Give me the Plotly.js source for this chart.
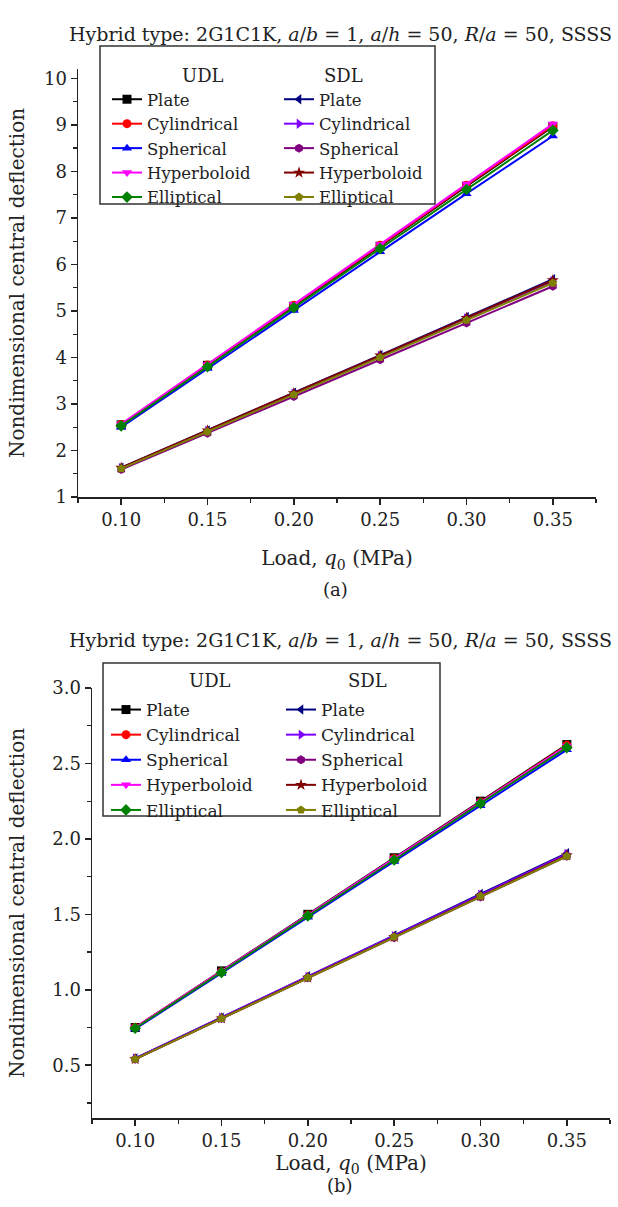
<!DOCTYPE html>
<html>
<head>
<meta charset="utf-8">
<script src="https://cdn.plot.ly/plotly-3.0.1.min.js"></script>
<style>html,body{margin:0;padding:0;background:#fff;}#chart{width:618px;height:1207px;}</style>
</head>
<body>
<div id="chart"></div>
<script>
// ---- data ----
var loads = [0.10, 0.15, 0.20, 0.25, 0.30, 0.35];
var names = ["Plate", "Cylindrical", "Spherical", "Hyperboloid", "Elliptical"];

// Panel (a)
var aUDL_plate = [2.55, 3.83, 5.10, 6.39, 7.68, 8.96];
var aUDL_cyl   = [2.56, 3.84, 5.12, 6.41, 7.70, 8.98];
var aUDL_sph   = [2.50, 3.76, 5.01, 6.27, 7.52, 8.76];
var aUDL_hyp   = [2.57, 3.85, 5.14, 6.43, 7.73, 9.02];
var aUDL_ell   = [2.53, 3.80, 5.07, 6.34, 7.61, 8.88];
var aSDL_plate = [1.63, 2.43, 3.24, 4.05, 4.87, 5.68];
var aSDL_cyl   = [1.62, 2.42, 3.22, 4.03, 4.84, 5.64];
var aSDL_sph   = [1.59, 2.37, 3.16, 3.95, 4.74, 5.53];
var aSDL_hyp   = [1.63, 2.43, 3.23, 4.04, 4.85, 5.66];
var aSDL_ell   = [1.61, 2.40, 3.20, 4.00, 4.80, 5.60];

// Panel (b)
var bUDL_plate = [0.75, 1.125, 1.50, 1.875, 2.25, 2.625];
var bUDL_cyl   = [0.75, 1.12, 1.495, 1.87, 2.245, 2.62];
var bUDL_sph   = [0.74, 1.11, 1.48, 1.85, 2.22, 2.59];
var bUDL_hyp   = [0.75, 1.12, 1.495, 1.87, 2.245, 2.615];
var bUDL_ell   = [0.745, 1.115, 1.49, 1.86, 2.235, 2.605];
var bSDL_plate = [0.545, 0.815, 1.09, 1.36, 1.635, 1.905];
var bSDL_cyl   = [0.545, 0.815, 1.085, 1.355, 1.63, 1.90];
var bSDL_sph   = [0.54, 0.81, 1.08, 1.345, 1.615, 1.885];
var bSDL_hyp   = [0.54, 0.81, 1.08, 1.35, 1.62, 1.89];
var bSDL_ell   = [0.54, 0.81, 1.08, 1.35, 1.62, 1.885];

var titleText = "Hybrid type: 2G1C1K, <i>a</i>/<i>b</i> = 1, <i>a</i>/<i>h</i> = 50, <i>R</i>/<i>a</i> = 50, SSSS";
var yTitle = "Nondimensional central deflection";
var xTitle = "Load, <i>q</i><sub>0</sub> (MPa)";

// ---- styles ----
var udlColors = ["#000000", "#ff0000", "#0000ff", "#ff00ff", "#008000"];
var udlSymbols = ["square", "circle", "triangle-up", "triangle-down", "diamond"];
var sdlColors = ["#000080", "#8000ff", "#800080", "#800000", "#808000"];
var sdlSymbols = ["triangle-left", "triangle-right", "hexagon", "star", "pentagon"];

var FONT = "DejaVu Serif, Liberation Serif, serif";
var TXT = "#222";
var W = 618, H = 1207;
function px(x){return x / W;}
function py(y){return 1 - y / H;}

var traces = [];
function addGroup(series, colors, symbols, xa, ya, leg){
  series.forEach(function(s, i){
    traces.push({
      x: loads, y: s, name: names[i], type: "scatter", mode: "lines+markers",
      xaxis: xa, yaxis: ya, legend: leg,
      line: {color: colors[i], width: 2},
      marker: {color: colors[i], symbol: symbols[i], size: 9}
    });
  });
}
addGroup([aUDL_plate, aUDL_cyl, aUDL_sph, aUDL_hyp, aUDL_ell], udlColors, udlSymbols, "x", "y", "legend");
addGroup([aSDL_plate, aSDL_cyl, aSDL_sph, aSDL_hyp, aSDL_ell], sdlColors, sdlSymbols, "x", "y", "legend2");
addGroup([bUDL_plate, bUDL_cyl, bUDL_sph, bUDL_hyp, bUDL_ell], udlColors, udlSymbols, "x2", "y2", "legend3");
addGroup([bSDL_plate, bSDL_cyl, bSDL_sph, bSDL_hyp, bSDL_ell], sdlColors, sdlSymbols, "x2", "y2", "legend4");

var axisCommon = {
  showline: true, linecolor: "#222", linewidth: 1.5, mirror: false,
  showgrid: false, zeroline: false, ticks: "outside", ticklen: 6, tickwidth: 1.5, tickcolor: "#222",
  tickfont: {family: FONT, size: 18, color: TXT}
};
function xAxis(dom, anchor, standoff){
  return Object.assign({}, axisCommon, {
    domain: dom, anchor: anchor, range: [0.075, 0.375], tick0: 0.10, dtick: 0.05, tickformat: ".2f",
    minor: {dtick: 0.025, ticks: "outside", ticklen: 4, tickwidth: 1.2, tickcolor: "#222", showgrid: false},
    title: {text: xTitle, font: {family: FONT, size: 20, color: TXT}, standoff: standoff}
  });
}
function yAxis(dom, anchor, rng, dt, fmt, standoff){
  return Object.assign({}, axisCommon, {
    domain: dom, anchor: anchor, range: rng, dtick: dt, tick0: 0, tickformat: fmt,
    minor: {dtick: dt / 2, ticks: "outside", ticklen: 4, tickwidth: 1.2, tickcolor: "#222", showgrid: false},
    title: {text: yTitle, font: {family: FONT, size: 20, color: TXT}, standoff: standoff}
  });
}

function legendAt(x, y, fs){
  return {x: px(x), y: py(y), xanchor: "left", yanchor: "top", bgcolor: "rgba(0,0,0,0)",
    borderwidth: 0, font: {family: FONT, size: fs, color: TXT}, tracegroupgap: 0, itemclick: false};
}

var layout = {
  width: W, height: H, margin: {l: 0, r: 0, t: 0, b: 0},
  paper_bgcolor: "#fff", plot_bgcolor: "#fff", showlegend: true,
  xaxis: xAxis([px(78), px(596)], "y", 22),
  yaxis: yAxis([py(497), py(69)], "x", [1, 10.2], 1, "d", 14),
  xaxis2: xAxis([px(92), px(610)], "y2", 4),
  yaxis2: yAxis([py(1118), py(688)], "x2", [0.15, 3.0], 0.5, ".1f", 22),
  legend: legendAt(107, 82, 16.5),
  legend2: legendAt(279, 82, 16.5),
  legend3: legendAt(106, 692, 17),
  legend4: legendAt(281, 692, 17),
  shapes: [
    {type: "rect", xref: "paper", yref: "paper", x0: px(100), x1: px(435), y0: py(46), y1: py(204), line: {color: "#333", width: 1.5}},
    {type: "rect", xref: "paper", yref: "paper", x0: px(103), x1: px(440), y0: py(663), y1: py(816), line: {color: "#333", width: 1.5}}
  ],
  annotations: [
    {text: titleText, xref: "paper", yref: "paper", x: px(340), y: py(21), showarrow: false, font: {family: FONT, size: 19, color: TXT}},
    {text: titleText, xref: "paper", yref: "paper", x: px(340), y: py(640), showarrow: false, font: {family: FONT, size: 19, color: TXT}},
    {text: "UDL", xref: "paper", yref: "paper", x: px(180), y: py(63), showarrow: false, font: {family: FONT, size: 18, color: TXT}},
    {text: "SDL", xref: "paper", yref: "paper", x: px(343), y: py(63), showarrow: false, font: {family: FONT, size: 18, color: TXT}},
    {text: "UDL", xref: "paper", yref: "paper", x: px(210), y: py(680), showarrow: false, font: {family: FONT, size: 18, color: TXT}},
    {text: "SDL", xref: "paper", yref: "paper", x: px(367), y: py(680), showarrow: false, font: {family: FONT, size: 18, color: TXT}},
    {text: "(a)", xref: "paper", yref: "paper", x: px(335), y: py(589), showarrow: false, font: {family: FONT, size: 18, color: TXT}},
    {text: "(b)", xref: "paper", yref: "paper", x: px(340), y: py(1198), showarrow: false, font: {family: FONT, size: 18, color: TXT}}
  ]
};

Plotly.newPlot("chart", traces, layout, {displayModeBar: false, staticPlot: true});
</script>
</body>
</html>
